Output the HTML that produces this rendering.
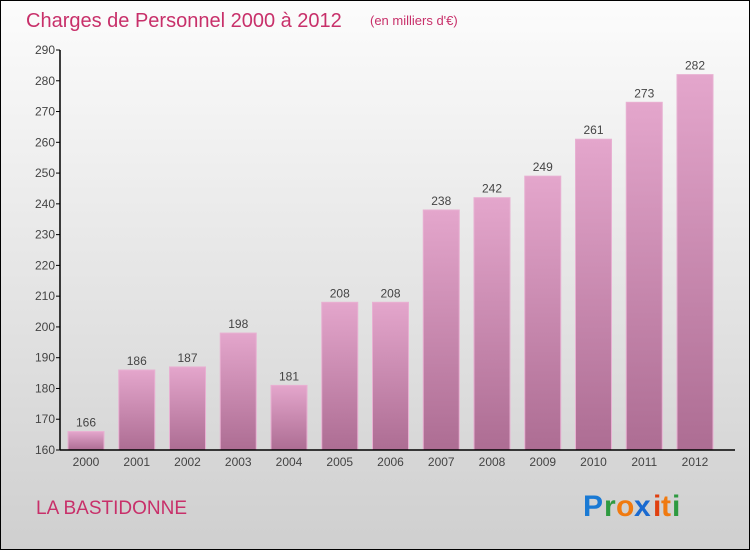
<!DOCTYPE html>
<html><head><meta charset="utf-8"><style>
html,body{margin:0;padding:0}
body{width:750px;height:550px;overflow:hidden;font-family:"Liberation Sans",sans-serif}
</style></head><body>
<svg width="750" height="550" xmlns="http://www.w3.org/2000/svg">
<defs>
<linearGradient id="bg" x1="0" y1="0" x2="0" y2="1"><stop offset="0" stop-color="#fcfcfc"/><stop offset="1" stop-color="#cfcfcf"/></linearGradient>
<linearGradient id="bar" x1="0" y1="0" x2="0" y2="1"><stop offset="0" stop-color="#e4a6cc"/><stop offset="1" stop-color="#ad6d93"/></linearGradient>
</defs>
<rect x="0.5" y="0.5" width="749" height="549" fill="url(#bg)" stroke="#000"/>
<text x="26" y="27" font-size="20" fill="#c8306a">Charges de Personnel 2000 à 2012</text>
<text x="370" y="25" font-size="13" fill="#c8306a">(en milliers d'€)</text>
<g id="plot"></g>
<text x="36" y="514" font-size="19" fill="#c8306a">LA BASTIDONNE</text>
<g font-size="30" font-weight="bold" font-family="'Liberation Sans',sans-serif">
<text x="583" y="516" fill="#1a7ad4">P</text><text x="604" y="516" fill="#2e9a40">r</text><text x="616" y="516" fill="#f07a10">o</text><text x="634" y="516" fill="#1a6ad0">x</text><text x="653" y="516" fill="#e04010">i</text><text x="661" y="516" fill="#f07a10">t</text><text x="672" y="516" fill="#2e9a40">i</text>
</g>
</svg>
<script>
const years=["2000","2001","2002","2003","2004","2005","2006","2007","2008","2009","2010","2011","2012"];
const values=[166,186,187,198,181,208,208,238,242,249,261,273,282];
const ticks=[160,170,180,190,200,210,220,230,240,250,260,270,280,290];
const NS="http://www.w3.org/2000/svg";
const g=document.getElementById('plot');
const y0=450,pxPer=400/130,yMin=160;
const yS=v=>y0-(v-yMin)*pxPer;
const xS=i=>86+i*50.75;
function el(t,a){const e=document.createElementNS(NS,t);for(const k in a)e.setAttribute(k,a[k]);g.appendChild(e);return e;}
values.forEach((v,i)=>{
 const r=el('rect',{x:xS(i)-18,y:yS(v),width:36,height:y0-yS(v),fill:'url(#bar)',stroke:'#e8b0d2','stroke-width':1});
 
 
 const t=el('text',{x:xS(i),y:yS(v)-5,'font-size':12,'text-anchor':'middle',fill:'#444'});
 t.textContent=v;
 
 
 const xl=el('text',{x:xS(i),y:466,'font-size':12,'text-anchor':'middle',fill:'#444'});
 xl.textContent=years[i];
 
 
});
ticks.forEach(t=>{
 const l=el('line',{x1:56,x2:60,y1:yS(t),y2:yS(t),stroke:'#000'});
 
 
 const tx=el('text',{x:55,y:yS(t)+4,'font-size':12,'text-anchor':'end',fill:'#444'});
 tx.textContent=t;
 
 
});
const ya=el('line',{x1:60,x2:60,y1:yS(290),y2:y0,stroke:'#000','stroke-width':1.5});


const xa=el('line',{x1:60,x2:735,y1:y0,y2:y0,stroke:'#000','stroke-width':1.5});


</script>
</body></html>
